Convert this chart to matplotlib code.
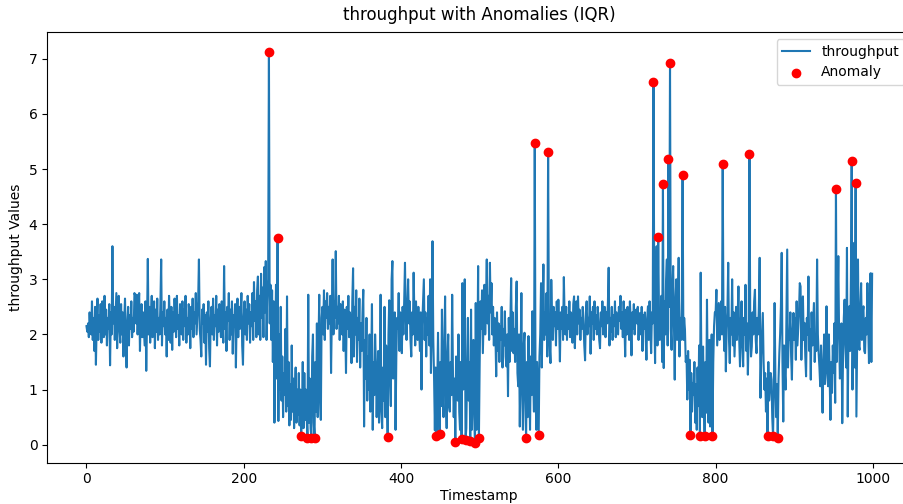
import numpy as np
import matplotlib
matplotlib.use("Agg")
import matplotlib.pyplot as plt

# throughput values, one per timestamp (0..999)
throughput = [
    2.15, 2.05, 2.2, 1.95, 2.4, 2.1, 2.0, 2.6, 1.9, 2.3,          # 0
    1.7, 2.5, 1.45, 2.2, 2.65, 1.9, 2.35, 2.05, 2.55, 1.85,
    2.6, 2.25, 1.95, 2.7, 2.0, 2.45, 1.8, 2.3, 2.1, 2.55,
    1.44, 2.4, 2.0, 3.6, 2.2, 2.5, 1.9, 2.35, 2.75, 1.75,
    2.3, 2.7, 2.1, 1.85, 2.55, 2.0, 2.4, 1.6, 2.25, 2.65,
    1.9, 1.4, 2.2, 2.5, 1.8, 2.35, 2.1, 2.6, 1.95, 2.3,           # 50
    2.05, 2.75, 2.7, 2.2, 2.72, 2.0, 2.45, 2.75, 1.7, 2.3,
    2.55, 1.95, 2.4, 2.1, 1.8, 2.6, 1.34, 2.2, 3.37, 2.0,
    2.5, 1.85, 2.35, 2.7, 1.95, 2.2, 2.6, 1.75, 2.45, 2.05,
    2.65, 1.9, 2.3, 2.0, 2.55, 3.36, 1.8, 2.4, 2.15, 2.6,
    2.0, 2.3, 1.6, 2.45, 1.9, 2.7, 2.2, 1.85, 2.5, 1.72,          # 100
    2.4, 2.05, 2.65, 2.25, 1.95, 2.7, 2.1, 2.35, 1.8, 2.55,
    2.2, 2.0, 2.6, 1.9, 2.45, 2.15, 2.7, 1.85, 2.3, 2.0,
    2.55, 2.35, 1.75, 2.5, 2.1, 2.65, 1.95, 2.4, 2.2, 2.75,
    2.0, 2.3, 2.6, 3.36, 2.1, 1.9, 1.6, 2.45, 2.2, 2.55,
    1.85, 2.35, 1.45, 2.4, 2.05, 2.6, 1.75, 1.42, 2.3, 2.5,       # 150
    2.0, 2.65, 1.9, 2.35, 2.15, 2.7, 1.8, 2.45, 2.05, 2.55,
    2.2, 1.95, 2.6, 2.3, 1.85, 3.24, 2.1, 2.4, 1.7, 2.5,
    2.25, 2.75, 1.9, 2.45, 2.0, 2.6, 1.65, 2.35, 2.15, 2.55,
    1.4, 2.3, 2.65, 1.95, 2.5, 2.1, 2.4, 2.75, 1.8, 1.45,
    2.3, 2.6, 2.0, 2.45, 1.9, 2.7, 2.2, 2.55, 1.85, 2.4,          # 200
    2.15, 2.75, 1.9, 2.95, 2.25, 2.6, 1.95, 2.8, 3.05, 2.0,
    2.7, 1.9, 3.1, 2.3, 2.85, 1.95, 3.22, 2.4, 3.33, 1.9,
    2.6, 3.0, 7.13, 2.2, 2.9, 1.9, 2.8, 1.5, 2.6, 0.4,
    1.8, 2.9, 1.2, 3.74, 0.43, 2.0, 1.0, 2.5, 0.8, 1.6,
    0.5, 1.3, 0.9, 2.1, 0.6, 2.69, 0.7, 1.5, 0.35, 1.1,           # 250
    0.45, 1.8, 0.6, 1.2, 0.3, 0.9, 1.4, 0.4, 1.0, 0.55,
    1.3, 0.35, 1.0, 0.15, 0.6, 1.5, 0.3, 1.3, 0.45, 1.0,
    0.5, 0.12, 2.72, 0.4, 1.2, 0.3, 0.13, 1.6, 2.0, 0.4,
    0.12, 1.5, 0.6, 2.2, 0.5, 1.8, 2.72, 0.8, 0.45, 2.3,
    2.5, 2.0, 2.8, 1.9, 2.6, 2.3, 2.75, 2.1, 2.5, 2.2,            # 300
    2.7, 1.3, 2.4, 3.36, 2.0, 2.6, 2.3, 3.51, 2.1, 2.5,
    2.2, 2.7, 1.9, 2.55, 2.35, 2.0, 2.6, 1.7, 2.45, 2.2,
    1.3, 2.5, 2.1, 2.7, 1.95, 2.4, 2.2, 1.48, 2.6, 3.2,
    1.6, 2.5, 2.0, 2.8, 1.5, 2.3, 1.9, 2.65, 1.4, 2.2,
    1.7, 2.4, 2.81, 0.33, 1.9, 1.2, 2.3, 0.8, 1.6, 1.0,           # 350
    2.0, 0.6, 1.4, 2.55, 0.27, 1.5, 0.9, 2.0, 1.48, 0.5,
    1.2, 1.7, 0.4, 1.0, 2.72, 0.6, 0.3, 1.4, 0.8, 2.5,
    0.5, 1.8, 0.9, 0.14, 2.0, 2.62, 1.2, 0.7, 3.0, 3.33,
    1.2, 2.0, 2.4, 0.27, 1.6, 2.3, 2.1, 2.75, 1.7, 2.4,
    2.2, 1.66, 2.5, 2.0, 2.6, 3.3, 2.3, 1.9, 2.5, 3.0,            # 400
    2.2, 2.6, 1.9, 1.6, 2.4, 2.0, 3.12, 2.3, 1.8, 2.6,
    2.2, 1.9, 2.5, 2.1, 1.7, 2.4, 1.0, 2.2, 2.6, 3.0,
    1.9, 2.4, 1.6, 2.3, 2.0, 2.7, 1.8, 3.0, 1.3, 2.2,
    3.69, 1.9, 1.2, 0.26, 1.4, 0.15, 1.0, 2.03, 0.9, 0.19,
    1.5, 0.7, 2.45, 1.1, 0.5, 1.8, 2.69, 0.9, 0.3, 1.6,           # 450
    2.0, 0.7, 0.6, 1.5, 0.9, 2.72, 1.3, 0.5, 1.2, 0.04,
    1.6, 1.2, 0.8, 2.0, 0.6, 0.27, 1.5, 0.11, 2.93, 1.0,
    1.8, 3.0, 0.09, 0.3, 1.4, 2.3, 0.8, 1.5, 0.06, 2.45,
    0.27, 1.2, 1.9, 0.5, 0.03, 2.57, 0.27, 1.4, 3.24, 0.13,
    1.5, 2.6, 2.1, 2.8, 1.66, 2.3, 2.9, 2.0, 2.6, 3.36,           # 500
    2.2, 2.7, 1.9, 3.3, 2.4, 2.93, 2.0, 2.5, 1.8, 2.3,
    2.0, 1.24, 2.4, 1.7, 2.2, 1.5, 2.15, 1.9, 2.5, 1.4,
    2.1, 1.8, 2.42, 1.6, 1.42, 2.0, 0.88, 2.3, 1.5, 2.2,
    3.02, 1.7, 2.4, 1.66, 2.1, 1.5, 2.5, 2.96, 1.3, 1.06,
    2.0, 0.33, 1.5, 2.75, 1.0, 0.27, 1.8, 2.03, 0.8, 0.12,        # 550
    1.5, 0.5, 1.97, 1.2, 0.27, 1.6, 0.9, 2.42, 1.3, 0.6,
    5.48, 1.0, 0.27, 1.5, 0.8, 0.18, 1.6, 2.0, 2.93, 1.4,
    2.5, 3.27, 1.9, 2.4, 2.0, 2.75, 1.6, 5.31, 2.2, 1.8,
    1.48, 2.99, 2.3, 1.9, 2.5, 2.15, 2.4, 1.8, 2.6, 2.1,
    2.63, 2.2, 1.51, 2.4, 2.1, 2.5, 1.9, 3.04, 2.3, 2.0,          # 600
    2.5, 1.9, 2.35, 2.1, 2.6, 1.95, 2.4, 2.2, 1.85, 2.55,
    2.69, 1.75, 2.3, 2.6, 2.0, 2.69, 2.2, 2.45, 1.9, 2.3,
    2.1, 2.5, 2.2, 1.8, 1.53, 2.4, 2.6, 2.0, 2.3, 2.15,
    2.69, 1.65, 2.4, 2.2, 2.5, 1.9, 2.6, 2.1, 2.35, 2.0,
    2.5, 2.25, 1.9, 1.75, 2.4, 2.15, 2.6, 2.0, 2.3, 2.5,          # 650
    1.95, 2.4, 2.2, 2.55, 3.21, 1.8, 2.3, 2.05, 2.5, 1.9,
    2.35, 2.15, 2.6, 1.95, 2.4, 2.2, 2.0, 2.5, 2.25, 2.7,
    2.1, 2.4, 1.95, 2.6, 2.2, 1.6, 2.45, 2.0, 2.5, 2.3,
    1.9, 2.6, 2.2, 1.62, 2.4, 2.1, 2.55, 2.0, 2.3, 2.45,
    2.2, 2.5, 1.9, 2.3, 2.39, 2.0, 2.5, 1.7, 2.35, 2.1,           # 700
    2.4, 2.0, 1.54, 2.3, 2.51, 1.9, 2.6, 2.1, 1.66, 2.4,
    2.2, 6.58, 2.5, 1.48, 2.9, 3.6, 1.8, 3.76, 2.4, 1.9,
    2.03, 2.7, 1.5, 4.72, 1.39, 2.6, 2.0, 3.0, 3.36, 1.8,
    5.19, 2.5, 6.93, 2.1, 1.72, 2.8, 3.24, 2.2, 1.18, 2.6,
    3.0, 1.9, 2.5, 3.39, 1.6, 2.3, 1.9, 2.6, 4.90, 1.9,           # 750
    2.3, 2.09, 1.5, 1.6, 0.82, 1.7, 1.0, 1.54, 0.18, 1.3,
    0.6, 1.12, 0.9, 1.5, 0.4, 1.1, 0.27, 1.4, 0.7, 1.8,
    0.16, 3.12, 1.2, 0.5, 1.78, 0.9, 0.15, 1.5, 0.58, 2.63,
    1.1, 0.4, 1.9, 0.33, 1.3, 2.0, 0.16, 1.5, 2.15, 2.4,
    2.4, 2.81, 1.8, 2.2, 2.57, 1.9, 2.39, 2.6, 2.0, 5.09,         # 800
    2.2, 1.7, 2.5, 1.33, 2.1, 2.4, 3.3, 1.9, 1.48, 2.3,
    2.0, 3.0, 1.8, 2.4, 1.6, 2.03, 2.5, 1.9, 2.3, 2.87,
    1.9, 1.42, 2.2, 2.6, 1.8, 1.42, 2.3, 2.0, 2.9, 1.7,
    2.2, 1.27, 2.0, 5.28, 2.3, 1.6, 1.78, 2.4, 2.0, 2.6,
    2.81, 1.9, 1.66, 2.3, 2.0, 2.5, 3.39, 0.85, 1.6, 2.0,         # 850
    2.39, 1.5, 1.0, 1.3, 0.6, 1.2, 0.16, 1.5, 0.8, 1.0,
    1.3, 1.18, 0.5, 0.15, 1.0, 2.57, 1.2, 0.5, 1.1, 0.12,
    1.2, 1.66, 2.0, 2.5, 3.48, 1.5, 0.42, 1.8, 1.3, 1.0,
    2.2, 3.54, 1.4, 2.0, 1.9, 2.4, 1.6, 1.18, 2.1, 2.39,
    1.9, 2.3, 1.54, 2.6, 1.8, 2.09, 2.4, 2.93, 2.87, 1.54,        # 900
    2.2, 2.69, 1.9, 2.21, 1.6, 1.24, 2.3, 2.0, 3.05, 1.7,
    2.1, 1.18, 2.4, 1.8, 2.2, 2.57, 1.5, 2.0, 1.7, 3.36,
    2.0, 1.66, 1.4, 1.06, 1.8, 1.2, 0.58, 1.5, 2.0, 1.1,
    1.6, 2.51, 1.3, 1.06, 2.0, 1.2, 0.45, 1.5, 0.94, 1.8,
    1.3, 2.2, 0.76, 4.64, 1.5, 2.4, 3.42, 2.0, 1.2, 1.36,         # 950
    2.2, 0.39, 1.6, 2.3, 2.63, 1.8, 1.4, 3.57, 0.51, 2.2,
    2.51, 1.7, 3.0, 5.14, 1.0, 2.3, 3.66, 1.4, 4.75, 0.51,
    2.0, 3.36, 1.8, 1.72, 2.5, 2.93, 1.9, 2.4, 2.51, 1.7,
    1.66, 2.3, 2.0, 2.93, 2.2, 1.48, 2.6, 3.11, 1.5, 3.1,
]

# timestamps flagged as anomalies (outside the IQR fences)
anomaly_idx = [232, 243, 273, 281, 286, 290, 383, 445, 449, 469, 477, 482,
               488, 494, 499, 559, 570, 575, 587, 721, 727, 733, 740, 742,
               758, 768, 780, 786, 796, 809, 843, 866, 873, 879, 953, 973, 978]

values = np.array(throughput)
timestamps = np.arange(len(values))
anom = np.array(anomaly_idx)

fig = plt.figure(figsize=(9.04, 5.04), dpi=100)
# the original screenshot cuts off the right edge of the axes
ax = fig.add_axes([0.0522, 0.0821, 0.956, 0.8544])

ax.plot(timestamps, values, label="throughput")
ax.scatter(anom, values[anom], color="red", label="Anomaly", zorder=3)

ax.set_title("throughput with Anomalies (IQR)", pad=9)
ax.set_xlabel("Timestamp", labelpad=2)
ax.set_ylabel("throughput Values")
ax.legend(loc="upper right")

fig.savefig("out.png", dpi=100)
